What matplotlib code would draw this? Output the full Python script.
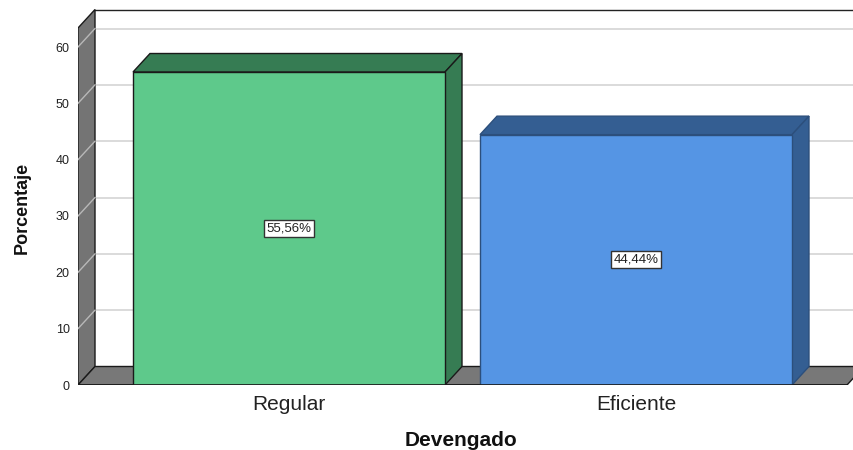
import numpy as np
import matplotlib.pyplot as plt
from matplotlib.patches import Polygon

# datos del grafico
categorias = ['Regular', 'Eficiente']
porcentajes = [55.56, 44.44]
etiquetas = ['55,56%', '44,44%']
yticks = [0, 10, 20, 30, 40, 50, 60]

frente = ['#5ec98b', '#5595e4']  # cara frontal
lado = ['#367c53', '#345e92']    # cara lateral y superior
borde = ['#1a1a1a', '#2c4f7c']

plt.rcParams['font.family'] = ['Liberation Sans', 'DejaVu Sans']

W, H = 854, 450
fig = plt.figure(figsize=(W/100, H/100), dpi=100)
xl, xr, ybase = 78, 854, 385
ax = fig.add_axes([xl/W, (H-ybase)/H, (xr-xl)/W, ybase/H])

pxy = (385-47)/60.   # pixeles por unidad en y
pxx = 347.           # pixeles entre categorias
cx0 = 289
ax.set_ylim(0, ybase/pxy)
xlo, xhi = (xl-cx0)/pxx, (xr-cx0)/pxx
ax.set_xlim(xlo, xhi)
dx, dy = 17/pxx, 18.5/pxy   # profundidad 3D
ancho = 312/pxx
techo = (385-28)/pxy
xfin = (847-cx0)/pxx

# pared del fondo
ax.add_patch(Polygon([(xlo+dx, dy), (xhi+dx, dy), (xhi+dx, techo+dy), (xlo+dx, techo+dy)],
                     closed=True, fc='white', ec='none', zorder=0))
for v in yticks[1:]:
    ax.plot([xlo+dx, xhi], [v+dy, v+dy], color='#d4d4d4', lw=1.2, zorder=1)
ax.plot([xlo+dx, xhi], [techo+dy, techo+dy], color='#222222', lw=1, zorder=1)

# pared izquierda
ax.add_patch(Polygon([(xlo, 0), (xlo+dx, dy), (xlo+dx, techo+dy), (xlo, techo)],
                     closed=True, fc='#747474', ec='#1a1a1a', lw=1, zorder=2))
for v in yticks[1:]:
    ax.plot([xlo, xlo+dx], [v, v+dy], color='#b8b8b8', lw=1, zorder=2)

# piso
ax.add_patch(Polygon([(xlo, 0), (xfin, 0), (xfin+dx, dy), (xlo+dx, dy)],
                     closed=True, fc='#787878', ec='#1a1a1a', lw=1, zorder=2))

# barras
x = np.arange(len(categorias))
ax.bar(x, porcentajes, width=ancho, color=frente, edgecolor=borde, lw=1, zorder=4)
for i, v in enumerate(porcentajes):
    a, b = x[i]-ancho/2, x[i]+ancho/2
    ax.add_patch(Polygon([(a, v), (a+dx, v+dy), (b+dx, v+dy), (b, v)],
                         closed=True, fc=lado[i], ec=borde[i], lw=1, zorder=3))
    ax.add_patch(Polygon([(b, 0), (b+dx, dy), (b+dx, v+dy), (b, v)],
                         closed=True, fc=lado[i], ec=borde[i], lw=1, zorder=3))
    ax.text(x[i], v/2, etiquetas[i], ha='center', va='center', fontsize=9.5, color='#222222',
            bbox=dict(boxstyle='square,pad=0.2', fc='white', ec='#333333', lw=1), zorder=5)

ax.plot([xlo, xfin], [0, 0], color='#1a1a1a', lw=1.2, zorder=5)

for s in ax.spines.values():
    s.set_visible(False)
ax.set_yticks(yticks)
ax.set_yticklabels([str(t) for t in yticks], fontsize=9, color='#222222')
ax.set_xticks(x)
ax.set_xticklabels(categorias, fontsize=15, color='#222222')
ax.tick_params(axis='y', length=0, pad=6)
ax.tick_params(axis='x', length=0, pad=7)

fig.text(461/W, 1-440/H, 'Devengado', ha='center', va='center', fontsize=15,
         fontweight='bold', color='#111111')
fig.text(22/W, 1-208/H, 'Porcentaje', ha='center', va='center', fontsize=13,
         fontweight='bold', rotation=90, color='#111111')

fig.savefig('out.png', dpi=100)
